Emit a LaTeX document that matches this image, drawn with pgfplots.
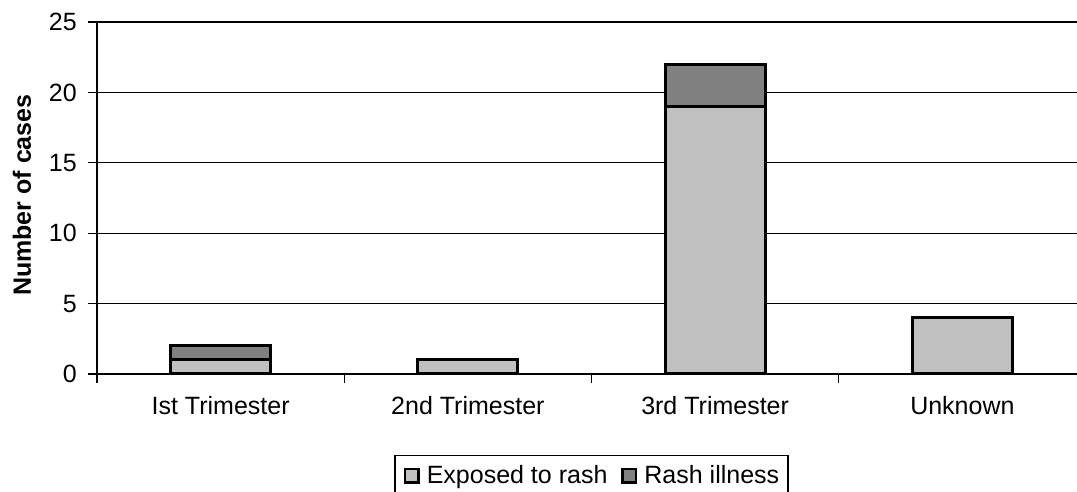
\documentclass[border=0pt]{standalone}
\usepackage{fontspec}
\setmainfont{Liberation Sans}
\usepackage{pgfplots}
\pgfplotsset{compat=1.18}
\definecolor{lightbar}{HTML}{C0C0C0}
\definecolor{darkbar}{HTML}{808080}
\begin{document}
\begin{tikzpicture}
\path[use as bounding box] (-97pt,-118pt) rectangle (980pt,374pt);
\begin{axis}[
  scale only axis,
  width=989pt, height=352pt,
  xmin=0, xmax=4, ymin=0, ymax=25,
  ybar stacked,
  bar width=100pt,
  axis x line*=bottom, axis y line*=left,
  axis line style={line width=2pt, -},
  xtick={0,1,2,3,4},
  xticklabels={Ist Trimester,2nd Trimester,3rd Trimester,Unknown},
  x tick label as interval,
  ytick={0,5,10,15,20,25},
  tick align=outside,
  major tick length=9pt,
  tick style={black, line width=1.2pt},
  ymajorgrids,
  grid style={black, line width=1.2pt},
  font=\fontsize{25}{30}\selectfont,
  /pgf/number format/assume math mode=true,
  yticklabel style={inner sep=0pt, xshift=-11pt},
  xticklabel style={inner sep=0pt, yshift=-13pt},
  ylabel={\bfseries Number of cases},
  ylabel style={at={(axis description cs:-0.0758,0.508)}, anchor=center},
  legend columns=2,
  legend style={at={(0.5,-0.2301)}, anchor=north, draw=black, line width=1.5pt,
    font=\fontsize{25}{30}\selectfont, inner xsep=9pt, inner ysep=8pt,
    /tikz/every odd column/.append style={column sep=7pt},
    /tikz/every even column/.append style={column sep=14pt},
    nodes={inner xsep=0pt, inner ysep=2pt}},
  legend image code/.code={\draw[#1, line width=2.5pt] (0pt,-7pt) rectangle (13.5pt,6.5pt);},
]
\addplot[fill=lightbar, draw=black, line width=3pt] coordinates {(0.5,1) (1.5,1) (2.5,19) (3.5,4)};
\addplot[fill=darkbar, draw=black, line width=3pt] coordinates {(0.5,1) (1.5,0) (2.5,3) (3.5,0)};
\legend{Exposed to rash,Rash illness}
\end{axis}
\end{tikzpicture}
\end{document}
